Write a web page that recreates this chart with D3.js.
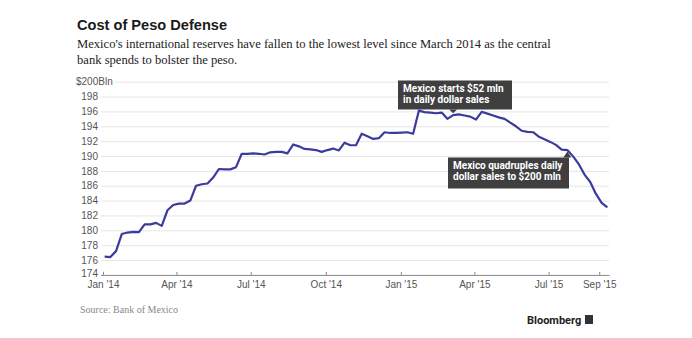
<!DOCTYPE html>
<html>
<head>
<meta charset="utf-8">
<script src="https://cdn.jsdelivr.net/npm/d3@7"></script>
<style>
  body { margin: 0; background: #fff; }
  svg { display: block; }
  .title { font-family: "Liberation Sans", Arial, sans-serif; font-weight: bold; font-size: 14.6px; fill: #1a1a1a; }
  .subtitle { font-family: "Liberation Serif", "DejaVu Serif", serif; font-size: 12.6px; fill: #222; }
  .tick text { font-family: "Liberation Sans", Arial, sans-serif; font-size: 10px; fill: #555; }
  .note text { font-family: Roboto, "Liberation Sans", sans-serif; font-weight: bold; font-size: 10px; fill: #fff; }
  .source { font-family: "Liberation Serif", serif; font-size: 10px; fill: #888; }
  .brand { font-family: Roboto, "Liberation Sans", sans-serif; font-weight: bold; font-size: 11px; fill: #222; }
</style>
</head>
<body>
<div id="chart"></div>
<script>
// weekly reserves, US$ bln, first reading 3 Jan 2014
var startDate = new Date(2014, 0, 3);
var reserves = [
  176.45, 176.4, 177.2, 179.5, 179.7, 179.8, 179.75, 180.8, 180.8, 181.0,
  180.6, 182.7, 183.4, 183.6, 183.6, 184.0, 186.0, 186.2, 186.3, 187.1,
  188.25, 188.2, 188.2, 188.5, 190.3, 190.3, 190.35, 190.3, 190.2, 190.5,
  190.55, 190.55, 190.35, 191.55, 191.3, 190.95, 190.9, 190.8, 190.55, 190.8,
  191.0, 190.75, 191.8, 191.45, 191.45, 193.0, 192.65, 192.3, 192.4, 193.2,
  193.1, 193.1, 193.15, 193.2, 193.0, 196.1, 195.9, 195.85, 195.75, 195.85,
  195.0, 195.5, 195.6, 195.45, 195.3, 194.9, 195.95, 195.7, 195.45, 195.2,
  195.0, 194.5, 194.0, 193.4, 193.25, 193.2, 192.6, 192.25, 191.9, 191.5,
  190.85, 190.8, 189.95, 188.9, 187.5, 186.5, 184.9, 183.7, 183.1
];
var yTicks = [174, 176, 178, 180, 182, 184, 186, 188, 190, 192, 194, 196, 198, 200];
var xTicks = [
  new Date(2014, 0, 1), new Date(2014, 3, 1), new Date(2014, 6, 1), new Date(2014, 9, 1),
  new Date(2015, 0, 1), new Date(2015, 3, 1), new Date(2015, 6, 1), new Date(2015, 8, 1)
];
var notes = [
  {week: 61, lines: ["Mexico starts $52 mln", "in daily dollar sales"]},
  {week: 81, lines: ["Mexico quadruples daily", "dollar sales to $200 mln"]}
];

var data = reserves.map(function(v, i) {
  return {date: d3.timeDay.offset(startDate, i * 7), value: v};
});

var width = 692, height = 338;
var svg = d3.select("#chart").append("svg")
    .attr("width", width)
    .attr("height", height);

var x = d3.scaleTime()
    .domain([new Date(2014, 0, 1), new Date(2015, 8, 13)])
    .range([103, 609]);

var y = d3.scaleLinear()
    .domain([174, 200])
    .range([274.9, 81.7]);

svg.append("text").attr("class", "title")
    .attr("x", 77).attr("y", 30)
    .text("Cost of Peso Defense");

svg.append("text").attr("class", "subtitle")
    .attr("x", 77).attr("y", 47.5)
    .text("Mexico's international reserves have fallen to the lowest level since March 2014 as the central");
svg.append("text").attr("class", "subtitle")
    .attr("x", 77).attr("y", 63.5)
    .text("bank spends to bolster the peso.");

// gridlines + y labels
var yAxis = svg.append("g")
    .attr("transform", "translate(101,0)")
    .call(d3.axisLeft(y)
      .tickValues(yTicks)
      .tickSize(-(609 - 101))
      .tickPadding(3)
      .tickFormat(function(d) { return d === 200 ? "$200Bln" : d; }));
yAxis.select(".domain").remove();
yAxis.selectAll(".tick line").attr("stroke", "#e6e6e6");
var t174 = yAxis.selectAll(".tick").filter(function(d) { return d === 174; });
t174.select("line").remove();
t174.select("text").attr("dy", "0.2em");
var t200 = yAxis.selectAll(".tick").filter(function(d) { return d === 200; });
t200.select("text").attr("text-anchor", "start").attr("x", -25);
t200.select("line").attr("x1", 14);

var xAxis = svg.append("g")
    .attr("transform", "translate(0," + y(174) + ")")
    .call(d3.axisBottom(x)
      .tickValues(xTicks)
      .tickSize(3)
      .tickSizeOuter(0)
      .tickPadding(3)
      .tickFormat(d3.timeFormat("%b '%y")));
xAxis.select(".domain").attr("stroke", "#888").attr("d", "M101,0.5H609.5");
xAxis.selectAll(".tick line").attr("stroke", "#888").attr("y1", -3).attr("y2", 0);

var line = d3.line()
    .x(function(d) { return x(d.date); })
    .y(function(d) { return y(d.value); });

svg.append("path")
    .datum(data)
    .attr("fill", "none")
    .attr("stroke", "#3b3b9c")
    .attr("stroke-width", 2.2)
    .attr("stroke-linejoin", "round")
    .attr("d", line);

// annotation boxes
function addNote(n, boxX, boxY, boxW, boxH, up) {
  var p = data[n.week];
  var px = x(p.date), py = y(p.value);
  var g = svg.append("g").attr("class", "note");
  g.append("rect")
      .attr("x", boxX).attr("y", boxY)
      .attr("width", boxW).attr("height", boxH)
      .attr("fill", "#3f3f3f");
  var tri = up
    ? [[px - 4, boxY], [px + 4, boxY], [px, py + 1.5]]
    : [[px - 4, boxY + boxH], [px + 4, boxY + boxH], [px, py - 2]];
  g.append("path")
      .attr("d", d3.line()(tri) + "Z")
      .attr("fill", "#3f3f3f");
  g.selectAll("text.l").data(n.lines).enter().append("text")
      .attr("class", "l")
      .attr("x", boxX + 5)
      .attr("y", function(d, i) { return boxY + 11 + i * 11.7; })
      .text(function(d) { return d; });
}
addNote(notes[0], 398, 80.5, 114, 29, false);
addNote(notes[1], 448, 157.5, 121, 31, true);

svg.append("text").attr("class", "source")
    .attr("x", 80).attr("y", 313)
    .text("Source: Bank of Mexico");

svg.append("text").attr("class", "brand")
    .attr("x", 527).attr("y", 324)
    .text("Bloomberg");
svg.append("rect")
    .attr("x", 585).attr("y", 315)
    .attr("width", 8).attr("height", 9)
    .attr("fill", "#333");
</script>
</body>
</html>
